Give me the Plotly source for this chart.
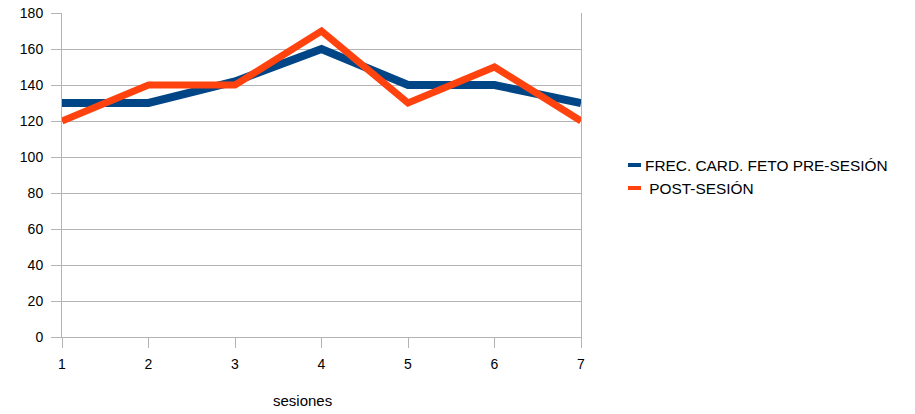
import plotly.graph_objects as go

sessions = [1, 2, 3, 4, 5, 6, 7]
pre_session = [130, 130, 142, 160, 140, 140, 130]
post_session = [120, 140, 140, 170, 130, 150, 120]
y_ticks = [0, 20, 40, 60, 80, 100, 120, 140, 160, 180]
series_names = ["FREC. CARD. FETO PRE-SESIÓN", "\u00a0POST-SESIÓN"]
series_colors = ["#004586", "#ff420e"]
x_title = "sesiones"

W, H = 915, 414
L, R, T, B = 62, 334, 13, 77
pw, ph = W - L - R, H - T - B


def px_x(p):
    return (p - L) / pw


def px_y(p):
    return (H - B - p) / ph


fig = go.Figure()
fig.add_trace(go.Scatter(x=sessions, y=pre_session, mode="lines",
                         name=series_names[0], showlegend=False,
                         line=dict(color=series_colors[0], width=8)))
fig.add_trace(go.Scatter(x=sessions, y=post_session, mode="lines",
                         name=series_names[1], showlegend=False,
                         line=dict(color=series_colors[1], width=7)))

# manual legend
legend_y = [165, 188]
legend_text_x = [643, 643]
for i in range(2):
    fig.add_shape(type="line", xref="paper", yref="paper",
                  x0=px_x(628), x1=px_x(641), y0=px_y(legend_y[i]), y1=px_y(legend_y[i]),
                  line=dict(color=series_colors[i], width=4))
    fig.add_annotation(xref="paper", yref="paper", x=px_x(legend_text_x[i]),
                       y=px_y(legend_y[i]), xanchor="left", yanchor="middle",
                       text=series_names[i], showarrow=False,
                       font=dict(size=15.4, color="#000000"))

# x axis title
fig.add_annotation(xref="paper", yref="paper", x=px_x(302), y=px_y(400),
                   xanchor="center", yanchor="middle", text=x_title,
                   showarrow=False, font=dict(size=15, color="#000000"))

fig.update_layout(
    width=W, height=H,
    margin=dict(l=L, r=R, t=T, b=B, autoexpand=False),
    paper_bgcolor="white", plot_bgcolor="white",
    font=dict(family="Liberation Sans, Arial, sans-serif", size=14, color="#000000"),
    showlegend=False,
)
fig.update_xaxes(
    range=[1, 7], tickvals=sessions, showgrid=False,
    showline=True, linecolor="#b3b3b3", linewidth=1,
    ticks="outside", ticklen=10, tickcolor="#b3b3b3",
    ticklabelstandoff=4, automargin=False,
    zeroline=False,
)
fig.update_yaxes(
    range=[0, 180], tickvals=y_ticks, showgrid=True, gridcolor="#b3b3b3",
    showline=True, mirror=True, linecolor="#b3b3b3", linewidth=1,
    ticks="outside", ticklen=10, tickcolor="#b3b3b3",
    ticklabelstandoff=5, automargin=False,
    zeroline=False,
)
fig.write_html("out.html")
